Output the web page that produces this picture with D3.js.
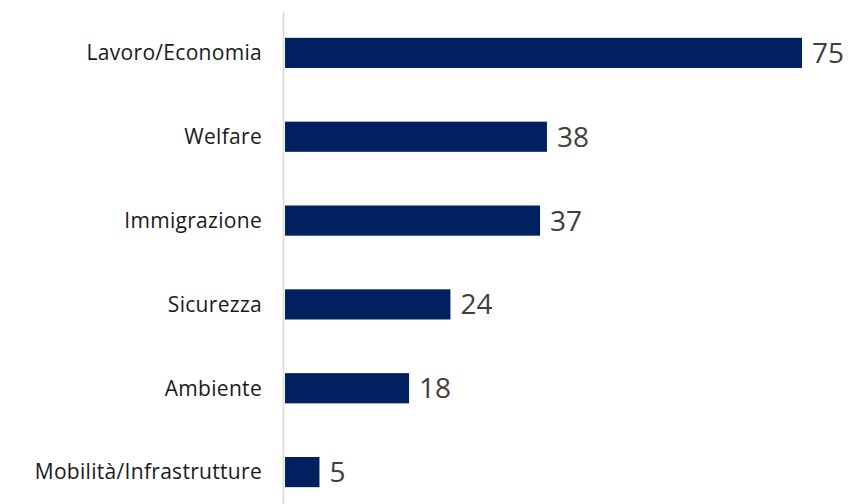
<!DOCTYPE html>
<html lang="en">
<head>
    <meta charset="UTF-8">
    <title>Temi</title>
    <style type="text/css">
        * {
            margin: 0;
            padding: 0;
        }
        body {
            background: #fff;
        }
    </style>
</head>
<body>
<div id="chart-area"></div>
<script src="https://cdn.jsdelivr.net/npm/d3@7"></script>
<script type="text/javascript">

  const categories = ['Lavoro/Economia', 'Welfare', 'Immigrazione', 'Sicurezza', 'Ambiente', 'Mobilità/Infrastrutture']
  const values = [75, 38, 37, 24, 18, 5]

  const WIDTH = 852
  const HEIGHT = 504
  const AXIS_X = 285

  const svg = d3.select('#chart-area').append('svg')
    .attr('width', WIDTH)
    .attr('height', HEIGHT)
    .style('font-family', '"Open Sans", sans-serif')

  const y = d3.scaleBand().domain(categories)
    .range([11, 514])
    .paddingInner(0.64)
    .paddingOuter(0.32)

  const x = d3.scaleLinear().domain([0, 75]).range([AXIS_X, 802])

  // vertical axis line
  svg.append('line')
    .attr('x1', AXIS_X - 1.5).attr('x2', AXIS_X - 1.5)
    .attr('y1', 12).attr('y2', HEIGHT)
    .attr('stroke', '#d9d9d9')
    .attr('stroke-width', 1.5)

  const rows = categories.map((c, i) => ({cat: c, val: values[i]}))

  svg.selectAll('rect.bar').data(rows)
    .join('rect')
    .attr('class', 'bar')
    .attr('x', x(0))
    .attr('y', d => y(d.cat))
    .attr('width', d => x(d.val) - x(0))
    .attr('height', y.bandwidth())
    .attr('fill', '#002060')

  // category labels
  svg.selectAll('text.cat').data(rows)
    .join('text')
    .attr('class', 'cat')
    .attr('x', 262)
    .attr('y', d => y(d.cat) + y.bandwidth() / 2)
    .attr('dy', '0.35em')
    .attr('text-anchor', 'end')
    .attr('font-size', '21px')
    .attr('letter-spacing', '0.3px')
    .attr('fill', '#1a1a1a')
    .text(d => d.cat)

  // value labels
  svg.selectAll('text.val').data(rows)
    .join('text')
    .attr('class', 'val')
    .attr('x', d => x(d.val) + 10)
    .attr('y', d => y(d.cat) + y.bandwidth() / 2)
    .attr('dy', '0.36em')
    .attr('font-size', '28px')
    .attr('fill', '#404040')
    .text(d => d.val)

</script>
</body>
</html>
